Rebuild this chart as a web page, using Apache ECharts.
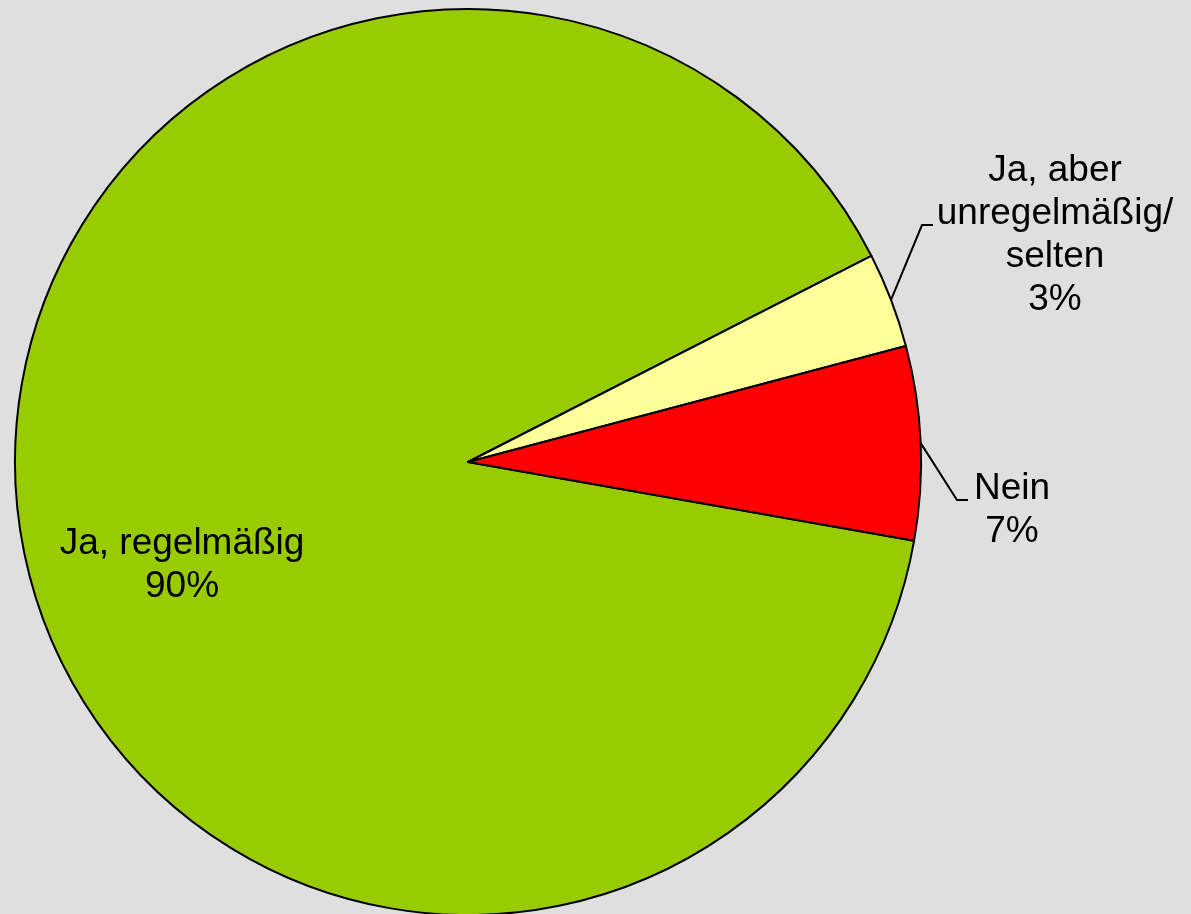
<!DOCTYPE html>
<html>
<head>
<meta charset="utf-8">
<title>Pie</title>
<script src="https://cdn.jsdelivr.net/npm/echarts@6/dist/echarts.min.js"></script>
<style>
    html, body { margin: 0; padding: 0; background: #dfdfdf; }
    #chart { width: 1191px; height: 914px; }
</style>
</head>
<body>
<div id="chart"></div>
<script>
    // Antwortkategorien und Anteile (in Prozent, aus dem Bild gelesen)
    var categories = ['Ja, regelmäßig', 'Ja, aber\nunregelmäßig/\nselten', 'Nein'];
    var shares = [89.7, 3.4, 6.9];
    var colors = ['#99cc00', '#ffff99', '#ff0000'];

    // where the outside labels sit (text centre, line anchor)
    var labelPos = {
        1: { cx: 1055, cy: 235, ax: 933, ay: 225 },
        2: { cx: 1012, cy: 510, ax: 968, ay: 500 }
    };

    var chart = echarts.init(document.getElementById('chart'));

    var data = [];
    for (var i = 0; i < categories.length; i++) {
        data.push({
            name: categories[i],
            value: shares[i],
            itemStyle: { color: colors[i] },
            label: { position: i === 0 ? 'inside' : 'outside' }
        });
    }

    chart.setOption({
        backgroundColor: '#dfdfdf',
        animation: false,
        series: [{
            type: 'pie',
            center: [468, 462],
            radius: 453,
            startAngle: -10,
            clockwise: true,
            avoidLabelOverlap: false,
            itemStyle: { borderColor: '#000', borderWidth: 2 },
            label: {
                show: true,
                color: '#000',
                fontFamily: 'Liberation Sans, Arial, sans-serif',
                fontSize: 37,
                lineHeight: 43,
                align: 'center',
                formatter: function (p) {
                    return p.name + '\n' + Math.round(p.percent) + '%';
                }
            },
            labelLine: {
                show: true,
                length: 30,
                length2: 10,
                lineStyle: { color: '#000', width: 2 }
            },
            labelLayout: function (p) {
                if (p.dataIndex === 0) {
                    return { dx: -59, dy: 69 };
                }
                var lp = labelPos[p.dataIndex];
                var start = p.labelLinePoints ? p.labelLinePoints[0] : [lp.ax - 40, lp.ay + 60];
                return {
                    x: lp.cx,
                    y: lp.cy,
                    align: 'center',
                    verticalAlign: 'middle',
                    labelLinePoints: [start, [lp.ax - 11, lp.ay], [lp.ax, lp.ay]]
                };
            },
            data: data
        }]
    });
</script>
</body>
</html>
